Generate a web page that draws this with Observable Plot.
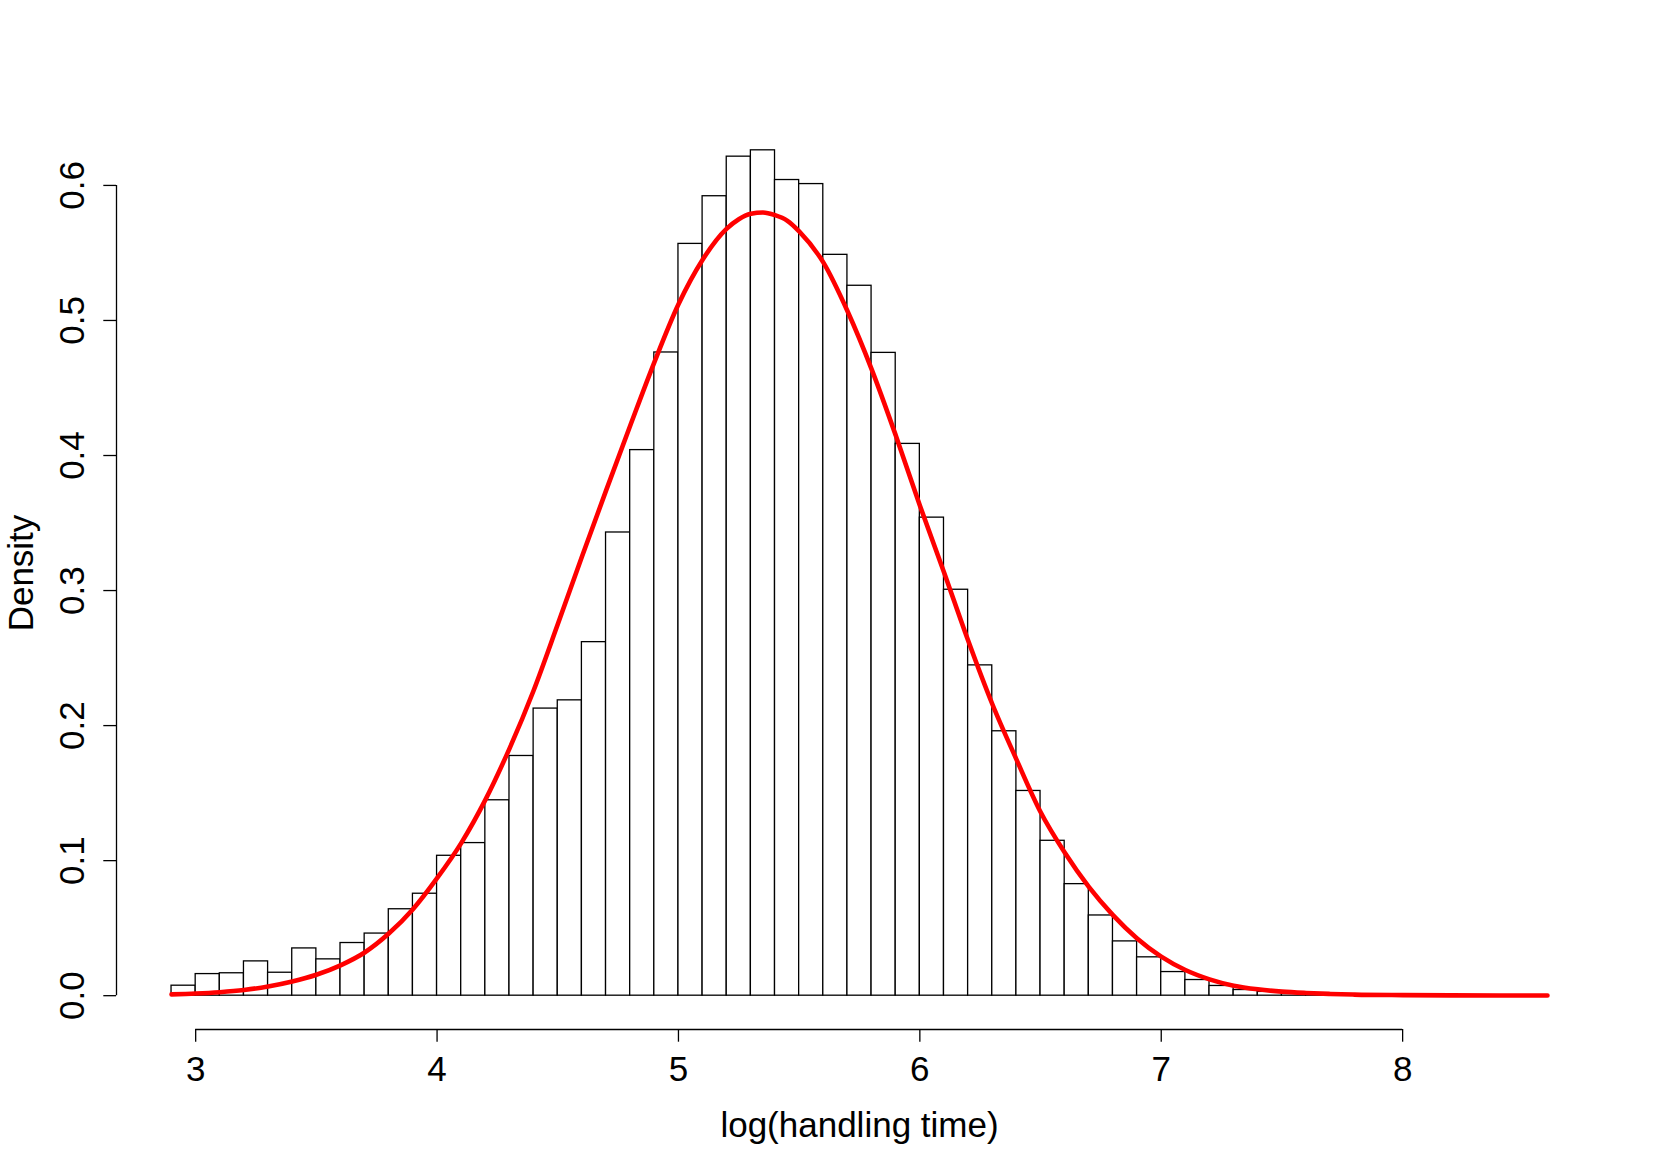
<!DOCTYPE html>
<html>
<head>
<meta charset="utf-8">
<script src="https://cdn.jsdelivr.net/npm/d3@7"></script>
<script src="https://cdn.jsdelivr.net/npm/@observablehq/plot@0.6"></script>
<style>
  html, body { margin: 0; padding: 0; background: #fff; }
  svg { display: block; }
</style>
</head>
<body>
<div id="chart"></div>
<script>
// Histogram: bins of width 0.1 starting at 2.9
const binStart = 2.9;
const binWidth = 0.1;
const densities = [
  0.0074, 0.016, 0.0166, 0.0254, 0.017, 0.035, 0.0269, 0.039, 0.046, 0.064,
  0.0755, 0.1036, 0.113, 0.1447, 0.1775, 0.2126, 0.2187, 0.2618, 0.343, 0.404,
  0.4763, 0.5567, 0.592, 0.6213, 0.626, 0.604, 0.601, 0.5486, 0.5257, 0.476,
  0.4086, 0.354, 0.3006, 0.2446, 0.1958, 0.1516, 0.1147, 0.0826, 0.0594, 0.0402,
  0.0284, 0.0175, 0.0116, 0.0072, 0.0042, 0.0028, 0.0014, 0.0007, 0.0004
];

// Fitted density curve (red)
const curveX = [
  2.9, 3.0, 3.1, 3.2, 3.3, 3.4, 3.5, 3.6, 3.7, 3.8, 3.9,
  4.0, 4.1, 4.2, 4.3, 4.4, 4.5, 4.6, 4.7, 4.8, 4.9,
  5.0, 5.1, 5.2, 5.25, 5.3, 5.35, 5.4, 5.45, 5.5, 5.6, 5.7, 5.8, 5.9,
  6.0, 6.1, 6.2, 6.3, 6.4, 6.5, 6.6, 6.7, 6.8, 6.9,
  7.0, 7.1, 7.2, 7.3, 7.4, 7.5, 7.6, 7.7, 7.8, 8.0, 8.2, 8.4, 8.6
];
const curveY = [
  0.001, 0.0016, 0.0026, 0.0042, 0.0068, 0.0105, 0.0155, 0.0225, 0.032, 0.046, 0.064,
  0.087, 0.113, 0.145, 0.183, 0.226, 0.275, 0.325, 0.374, 0.422, 0.469,
  0.512, 0.545, 0.568, 0.575, 0.579, 0.580, 0.578, 0.574, 0.566, 0.543, 0.507, 0.464, 0.415,
  0.363, 0.3136, 0.263, 0.216, 0.175, 0.136, 0.106, 0.0806, 0.0597, 0.0424,
  0.0289, 0.019, 0.0121, 0.0074, 0.0047, 0.003, 0.002, 0.0013, 0.0008, 0.0004, 0.0002, 0.0001, 0.0001
];

const xTicks = [3, 4, 5, 6, 7, 8];
const yTicks = [0.0, 0.1, 0.2, 0.3, 0.4, 0.5, 0.6];
const xLabel = "log(handling time)";
const yLabel = "Density";

// data range and R-style 4% padding
const xRange = [2.9, 8.6];
const yRange = [0, d3.max(densities)];
const pad = (r) => { const p = (r[1] - r[0]) * 0.04; return [r[0] - p, r[1] + p]; };
const xDomain = pad(xRange);
const yDomain = pad(yRange);

const bins = densities.map((d, i) => ({
  x1: +(binStart + i * binWidth).toFixed(2),
  x2: +(binStart + (i + 1) * binWidth).toFixed(2),
  y: d
}));
const curve = curveX.map((x, i) => ({ x, y: curveY[i] }));

const font = "'Liberation Sans', Arial, Helvetica, sans-serif";
const fs = 35;

const chart = Plot.plot({
  width: 1661,
  height: 1175,
  marginLeft: 116,
  marginRight: 59,
  marginTop: 116,
  marginBottom: 146,
  style: { fontFamily: font, background: "#fff", color: "#000" },
  x: { domain: xDomain, axis: null },
  y: { domain: yDomain, axis: null },
  marks: [
    Plot.rectY(bins, { x1: "x1", x2: "x2", y1: 0, y2: "y", fill: "#fff", stroke: "#000", strokeWidth: 1.3 }),
    Plot.line(curve, { x: "x", y: "y", stroke: "#ff0000", strokeWidth: 4.6, curve: "monotone-x", strokeLinecap: "round" }),
    // x axis
    Plot.ruleY([yDomain[0]], { x1: d3.min(xTicks), x2: d3.max(xTicks), stroke: "#000", strokeWidth: 1.3 }),
    Plot.axisX(xTicks, { tickSize: 12.7, tickPadding: 14, fontSize: fs, tickFormat: (d) => String(d), label: null, strokeWidth: 1.3 }),
    Plot.text([xLabel], { frameAnchor: "bottom", dy: 96, fontSize: fs, lineAnchor: "middle", textAnchor: "middle", fill: "#000" }),
    // y axis
    Plot.ruleX([xDomain[0]], { y1: d3.min(yTicks), y2: d3.max(yTicks), stroke: "#000", strokeWidth: 1.3 }),
    Plot.axisY(yTicks, { tickSize: 12.7, tickRotate: -90, tickPadding: 20, fontSize: fs, tickFormat: (d) => d.toFixed(1), label: null, strokeWidth: 1.3 }),
    Plot.text([yLabel], { frameAnchor: "left", dx: -95, rotate: -90, fontSize: fs, lineAnchor: "middle", textAnchor: "middle", fill: "#000" })
  ]
});
document.getElementById("chart").appendChild(chart);
</script>
</body>
</html>
